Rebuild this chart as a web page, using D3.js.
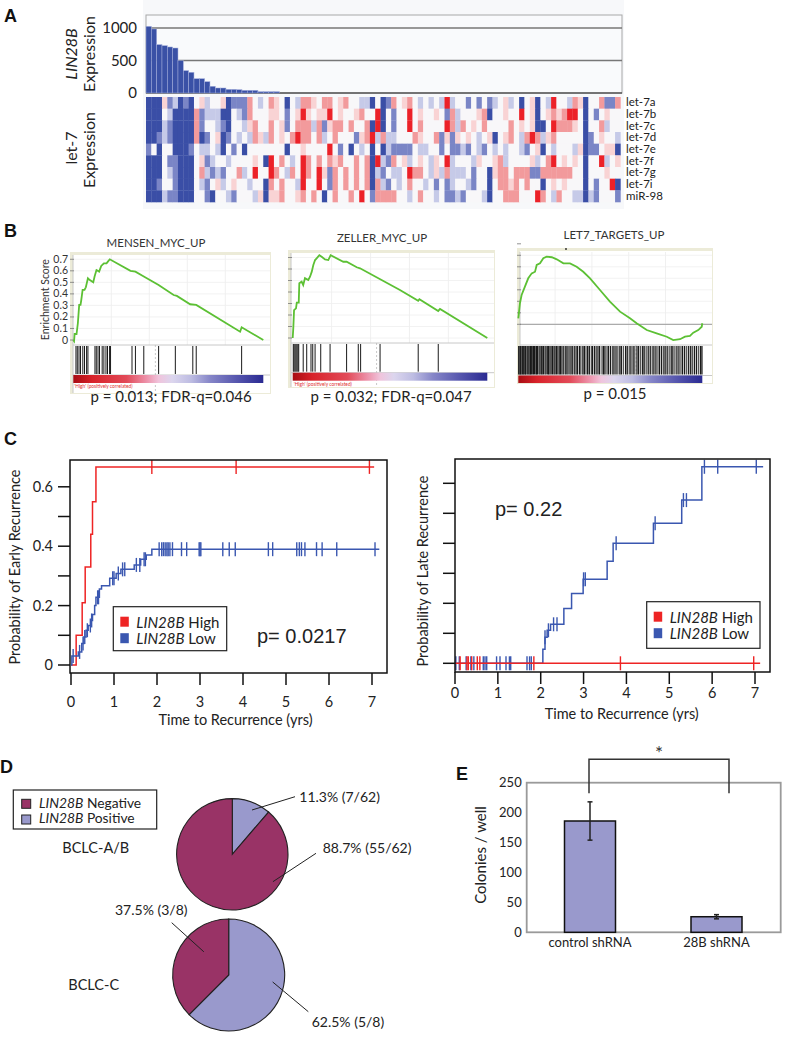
<!DOCTYPE html>
<html><head><meta charset="utf-8">
<script src="https://cdn.jsdelivr.net/npm/d3@7"></script>
<style>body{margin:0;background:#fff}</style>
</head><body><svg id="c" width="786" height="1050"></svg>
<script>
// ================= DATA =================
// Panel A
const lin28bValues = [1025,985,744,728,708,692,497,344,318,220,220,174,103,77,77,56,56,51,41,41,41,20,20,20,20,
 0,0,0,0,0,0,0,0,
 0,0,0,0,0,0,0,0,
 0,0,0,0,0,0,0,0,
 0,0,0,0,0,0,0,0,
 0,0,0,0,0,0,0,0,
 0,0,0,0,0,0,0,0,
 0,0,0,0,0,0,0,0,
 0,0,0,0,0,0,0,0];
const lin28bTicks = [0,500,1000];
const let7Rows = ["let-7a","let-7b","let-7c","let-7d","let-7e","let-7f","let-7g","let-7i","miR-98"];
// level codes 1..7 : 1 = strong blue, 4 = neutral, 7 = strong red
const let7Codes = [
 "1115231214 5344512226 4346541436 6546645644 3314126456 4343437344 2424234534 1451437443 651446226",
 "1114311116 2333114326 4445542457 5455745445 6447142447 4544542634 4456144544 7451456567 741424544",
 "1113211116 2443214435 6446452466 6362566464 4617142447 4644447636 4546444464 5451147666 541446344",
 "1123211116 1245124343 6536454676 6463464442 5673633444 6544625254 5434514564 3676356444 441245443",
 "2414411124 3343142414 4444441445 4444742414 3414132222 4334424223 2432434344 3245143444 351224551",
 "1114221114 5234434444 5417464347 6464656446 4617326453 4543547344 4354456344 4453467454 541447345",
 "1114321114 6323244634 7447643647 6475264646 4613243347 6643536333 4244156646 6622666666 441444544",
 "1124421114 3245345443 4416464437 4474264646 4616324346 4434242344 3244146656 4644145454 441424471",
 "1113221114 4214432444 3515564456 4641464464 7426666443 4644342232 4443144666 4447643644 331324442"
];
// Panel B (rank 0..1000, enrichment score)
const mensenCurve = [[0,0],[4,-0.01],[7,0.052],[17,0.052],[24,0.145],[31,0.304],[38,0.304],[42,0.347],[49,0.434],[59,0.434],[66,0.457],[77,0.535],[87,0.52],[105,0.50],[112,0.55],[122,0.607],[136,0.593],[147,0.642],[161,0.665],[175,0.665],[182,0.68],[192,0.70],[301,0.60],[327,0.593],[371,0.55],[449,0.477],[528,0.39],[545,0.382],[615,0.31],[647,0.304],[878,0.072],[886,0.11],[1000,0]];
const mensenHits = [14,21,30,38,50,59,70,77,114,121,130,138,152,161,172,180,191,196,309,327,371,449,537,629,647,886];
const zellerCurve = [[0,0],[3,0.084],[7,0.243],[17,0.258],[21,0.307],[31,0.307],[34,0.476],[46,0.49],[54,0.46],[63,0.52],[80,0.504],[89,0.533],[98,0.577],[106,0.635],[115,0.678],[123,0.693],[137,0.72],[149,0.707],[166,0.684],[183,0.678],[195,0.72],[260,0.663],[277,0.663],[329,0.615],[346,0.606],[551,0.417],[645,0.324],[651,0.337],[748,0.235],[757,0.252],[1000,0]];
const zellerHits = [3,7,12,17,22,27,31,54,72,94,103,115,144,192,277,337,349,449,645,748];
const let7Curve = [[0,0.052],[9,0.183],[18,0.255],[36,0.327],[54,0.4],[73,0.443],[91,0.457],[100,0.516],[118,0.53],[136,0.574],[154,0.588],[182,0.583],[209,0.565],[245,0.53],[281,0.53],[317,0.50],[353,0.457],[390,0.40],[444,0.298],[498,0.197],[553,0.11],[607,0.052],[643,0.009],[698,-0.05],[752,-0.078],[807,-0.108],[842,-0.137],[879,-0.13],[906,-0.108],[933,-0.1],[951,-0.073],[978,-0.05],[997,-0.021],[1000,0.009]];
const let7Hits = [2,6,11,15,19,24,28,33,38,41,47,52,58,63,66,71,77,82,88,95,99,104,112,118,126,131,137,146,152,160,165,171,178,186,193,199,207,214,222,229,236,244,255,262,270,281,288,296,307,315,322,333,340,351,359,368,377,386,397,404,415,424,433,442,455,463,471,482,490,501,512,520,531,541,552,560,571,583,592,603,612,624,633,645,654,665,676,684,695,706,717,728,737,748,759,768,779,790,798,809,820,831,840,851,862,873,884,893,904,915,926,937,946,957,968,979,990,998];
const esTicks = [0,0.1,0.2,0.3,0.4,0.5,0.6,0.7];
const gseaTitles = ["MENSEN_MYC_UP","ZELLER_MYC_UP","LET7_TARGETS_UP"];
const gseaStats = ["p = 0.013; FDR-q=0.046","p = 0.032; FDR-q=0.047","p = 0.015"];
// Panel C (time yrs, probability)
const earlyHighSteps = [[0,0],[0.12,0.10],[0.26,0.21],[0.33,0.33],[0.46,0.44],[0.50,0.55],[0.58,0.667]];
const earlyHighEnd = 7.05;
const earlyHighCensor = [1.88,3.84,6.94];
const earlyLowSteps = [[0,0],[0.02,0.03],[0.17,0.044],[0.25,0.072],[0.30,0.094],[0.35,0.117],[0.40,0.133],[0.46,0.15],[0.50,0.17],[0.55,0.20],[0.58,0.228],[0.66,0.256],[0.71,0.267],[0.90,0.292],[1.05,0.308],[1.16,0.322],[1.47,0.337],[1.62,0.356],[1.75,0.37],[1.88,0.39]];
const earlyLowEnd = 7.17;
const earlyLowCensor = [0.05,0.2,0.28,0.32,0.38,0.45,0.48,0.62,0.64,0.97,1.0,1.1,1.2,1.25,1.52,1.6,1.7,1.73,2.05,2.11,2.15,2.19,2.23,2.26,2.30,2.36,2.57,2.69,2.98,3.0,3.02,3.53,3.68,3.82,4.59,4.69,5.25,5.31,5.36,5.44,5.71,5.84,6.18,7.07];
const lateHighSteps = [[0,0]];
const lateHighEnd = 7.12;
const lateHighCensor = [0.12,0.28,0.31,0.39,0.52,0.58,1.84,3.86,6.97];
const lateLowSteps = [[0,0],[2.05,0.047],[2.1,0.087],[2.15,0.11],[2.23,0.13],[2.54,0.183],[2.72,0.233],[2.99,0.28],[3.55,0.34],[3.69,0.40],[4.63,0.467],[5.29,0.544],[5.76,0.655]];
const lateLowEnd = 7.19;
const lateLowCensor = [0.02,0.1,0.26,0.37,0.44,0.66,0.70,0.74,0.97,1.05,1.19,1.27,1.3,1.68,1.74,1.78,2.1,2.18,2.3,2.38,3.0,3.04,3.76,4.67,5.33,5.4,5.82,6.13,7.03];
const kmXTicks = [0,1,2,3,4,5,6,7];
const kmYTicks = [0,0.1,0.2,0.3,0.4,0.5,0.6];
const kmYLabels = [0,0.2,0.4,0.6];
// Panel D
const pieGroups = ["BCLC-A/B","BCLC-C"];
const piePositive = [7,5];
const pieNegative = [55,3];
// Panel E
const eCategories = ["control shRNA","28B shRNA"];
const eValues = [186,26];
const eErrors = [32,3.5];
const eTicks = [0,50,100,150,200,250];

// ================= DRAW =================
const F = "Lato, 'Open Sans', sans-serif";
const svg = d3.select('#c');
svg.append('rect').attr('width',786).attr('height',1050).attr('fill','#fff');

function txt(g,x,y,s,o={}){
  const t=g.append('text').attr('x',x).attr('y',y).text(s)
   .attr('font-size',o.size||14).attr('fill',o.fill||'#222')
   .attr('text-anchor',o.anchor||'start').attr('font-family',o.family||F);
  if(o.weight) t.attr('font-weight',o.weight);
  if(o.italic) t.attr('font-style','italic');
  return t;
}
function rich(g,x,y,parts,o={}){
  const t=g.append('text').attr('x',x).attr('y',y)
   .attr('font-size',o.size||14).attr('fill',o.fill||'#222').attr('font-family',o.family||F)
   .attr('text-anchor',o.anchor||'start');
  parts.forEach(p=>t.append('tspan').text(p[0]).attr('font-style',p[1]?'italic':'normal'));
  return t;
}
// panel letters
[["A",4,22],["B",4,237],["C",4,445],["D",0,773],["E",456,780]].forEach(d=>
  txt(svg,d[1],d[2],d[0],{size:18,weight:'bold',family:"'Liberation Sans',Arial,sans-serif",fill:'#111'}));

// ---------- Panel A ----------
const gA = svg.append('g');
gA.append('rect').attr('x',143).attr('y',0).attr('width',481).attr('height',209).attr('fill','#f7f8fa');
const nCols = let7Codes[0].replace(/ /g,'').length;
const xA = d3.scaleBand().domain(d3.range(nCols)).range([146,620.4]);
const yA = d3.scaleLinear().domain([0,1200]).range([93,15]);
gA.append('rect').attr('x',146).attr('y',15).attr('width',476).attr('height',78).attr('fill','#f9fafc').attr('stroke','#a8a8a8').attr('stroke-width',1);
lin28bTicks.forEach(v=>gA.append('line').attr('x1',146).attr('x2',622).attr('y1',yA(v)).attr('y2',yA(v)).attr('stroke',v===0?'#555':'#777').attr('stroke-width',1.3));
gA.selectAll('rect.bar').data(lin28bValues.slice(0,nCols)).join('rect').attr('class','bar')
  .attr('x',(d,i)=>xA(i)).attr('width',xA.bandwidth()).attr('y',d=>yA(d)).attr('height',d=>yA(0)-yA(d))
  .attr('fill','#3a51a6').attr('stroke','#a3aedb').attr('stroke-width',0.5);
const axA = gA.append('g').attr('transform','translate(146,0)').call(d3.axisLeft(yA).tickValues(lin28bTicks).tickFormat(d3.format('d')).tickSize(0).tickPadding(9));
axA.select('.domain').remove();
axA.selectAll('text').attr('font-size',15).attr('font-family',F).attr('fill','#222');
rich(gA,0,0,[["LIN28B",true]],{size:16,anchor:'middle'}).attr('transform','translate(77,54) rotate(-90)');
txt(gA,0,0,"Expression",{size:16,anchor:'middle'}).attr('transform','translate(95,54) rotate(-90)');
txt(gA,0,0,"let-7",{size:16,anchor:'middle'}).attr('transform','translate(77,148) rotate(-90)');
txt(gA,0,0,"Expression",{size:16,anchor:'middle'}).attr('transform','translate(95,150) rotate(-90)');
const yH = d3.scaleBand().domain(let7Rows).range([97,202]);
const heatColor = d3.scaleLinear().domain([-3,-2,-1,0,1,2,3]).range(["#3a4ea6","#7a85c6","#c6cae8","#f8f7f9","#f9d3d4","#f29a9c","#ec2128"]);
const cells=[];
let7Codes.forEach((s,ri)=>{ s.replace(/ /g,'').split('').slice(0,nCols).forEach((c,ci)=>cells.push({r:let7Rows[ri],c:ci,v:(+c)-4})); });
gA.selectAll('rect.cell').data(cells).join('rect').attr('class','cell')
  .attr('x',d=>xA(d.c)).attr('y',d=>yH(d.r)).attr('width',xA.bandwidth()+0.3).attr('height',yH.bandwidth()+0.3)
  .attr('fill',d=>heatColor(d.v));
let7Rows.forEach(r=>txt(gA,626,yH(r)+yH.bandwidth()/2+3.5,r,{size:11.5,fill:'#222'}));

// ---------- Panel B ----------
const gradStops=[[0,"#a80c12"],[0.1,"#d8222a"],[0.28,"#e24a58"],[0.38,"#ec8ea6"],[0.45,"#f0c4dc"],[0.52,"#dcd6ee"],[0.62,"#bdbce2"],[0.72,"#8686c8"],[0.86,"#5656ae"],[1,"#2a2a92"]];
const defs=svg.append('defs');
const lg=defs.append('linearGradient').attr('id','rankGrad');
gradStops.forEach(s=>lg.append('stop').attr('offset',s[0]).attr('stop-color',s[1]));

function gsea(o){
  const g=svg.append('g');
  g.append('rect').attr('x',o.box[0]).attr('y',o.box[1]).attr('width',o.box[2]-o.box[0]).attr('height',o.box[3]-o.box[1]).attr('fill','#ecebd8');
  g.append('rect').attr('x',o.box[0]+3).attr('y',o.box[1]+3).attr('width',o.box[2]-o.box[0]-4).attr('height',o.box[3]-o.box[1]-4).attr('fill','#fff');
  const x=d3.scaleLinear().domain([0,1000]).range(o.xr);
  const y=d3.scaleLinear().domain([0,0.1]).range([o.zero,o.zero-o.unit]);
  const L=o.box[0]+3, R=o.box[2]-1;
  [200,400,600,800].forEach(r=>g.append('line').attr('x1',x(r)).attr('x2',x(r)).attr('y1',o.es[0]).attr('y2',o.es[1]).attr('stroke','#ececec').attr('stroke-width',0.8));
  esTicks.forEach(v=>{ if(y(v)>o.es[0]) g.append('line').attr('x1',L).attr('x2',R).attr('y1',y(v)).attr('y2',y(v)).attr('stroke','#efefef').attr('stroke-width',0.8);});
  g.append('line').attr('x1',L).attr('x2',R).attr('y1',o.es[1]).attr('y2',o.es[1]).attr('stroke','#c8c8c8');
  g.append('line').attr('x1',L).attr('x2',R).attr('y1',o.hits[1]).attr('y2',o.hits[1]).attr('stroke','#c8c8c8');
  g.append('line').attr('x1',L).attr('x2',L).attr('y1',o.es[0]).attr('y2',o.box[3]-1).attr('stroke','#c8c8c8');
  if(o.zeroLine) g.append('line').attr('x1',L).attr('x2',R).attr('y1',y(0)).attr('y2',y(0)).attr('stroke','#999').attr('stroke-width',1);
  esTicks.forEach(v=>g.append('line').attr('x1',L-3).attr('x2',L+1).attr('y1',y(v)).attr('y2',y(v)).attr('stroke','#777').attr('stroke-width',0.8));
  if(o.labels){
    esTicks.forEach(v=>txt(g,L-5,y(v)+3.5,v===0?"0":String(v),{size:10.5,anchor:'end',fill:'#333'}));
    txt(g,0,0,"Enrichment Score",{size:10.5,anchor:'middle',fill:'#333'}).attr('transform',`translate(49,${(y(0)+y(0.7))/2}) rotate(-90)`);
  }
  g.append('line').attr('x1',x(o.cross)).attr('x2',x(o.cross)).attr('y1',o.hits[0]).attr('y2',o.box[3]-1).attr('stroke','#bbb').attr('stroke-dasharray','2,2').attr('stroke-width',0.8);
  g.selectAll('line.hit').data(o.hitData).join('line').attr('class','hit')
   .attr('x1',d=>x(d)).attr('x2',d=>x(d)).attr('y1',o.hits[0]+1).attr('y2',o.hits[1]-1)
   .attr('stroke',(d,i)=>o.dense&&(i%3===1)?'#555':'#1a1a1a').attr('stroke-width',o.dense?1.3:1);
  g.append('rect').attr('x',x(0)).attr('y',o.bar[0]).attr('width',x(1000)-x(0)).attr('height',o.bar[1]-o.bar[0]).attr('fill','url(#rankGrad)');
  if(o.caption) txt(g,x(0)+1,o.bar[1]+5,"'High' (positively correlated)",{size:4.8,fill:'#e03030'});
  g.append('path').attr('d',d3.line().x(d=>x(d[0])).y(d=>y(d[1]))(o.curve)).attr('fill','none').attr('stroke','#5cc034').attr('stroke-width',1.8);
  txt(g,o.title[0],o.title[1],o.titleText,{size:11.5,anchor:'middle',fill:'#333'});
  txt(g,o.stat[0],o.stat[1],o.statText,{size:15,anchor:'middle',fill:'#222'});
}
gsea({box:[70,252,271,394],xr:[73.3,263.3],zero:340,unit:11.53,es:[255,345],hits:[345,375],bar:[375,383],labels:true,caption:true,cross:432,curve:mensenCurve,hitData:mensenHits,title:[156,247],titleText:gseaTitles[0],stat:[171,402],statText:gseaStats[0]});
gsea({box:[288,250,495,388],xr:[292.7,487.3],zero:338,unit:11.5,es:[253,343],hits:[343,372.7],bar:[372.7,380.7],labels:false,caption:true,cross:431,curve:zellerCurve,hitData:zellerHits,title:[382,242],titleText:gseaTitles[1],stat:[391,402],statText:gseaStats[1]});
gsea({box:[517,248,713,384],xr:[518.3,702.3],zero:324.3,unit:11.5,es:[252,345],hits:[345,375.5],bar:[375.5,383],labels:false,caption:false,zeroLine:true,cross:640,dense:true,curve:let7Curve,hitData:let7Hits,title:[614,239],titleText:gseaTitles[2],stat:[615,399],statText:gseaStats[2]});
svg.append('circle').attr('cx',566).attr('cy',249).attr('r',0.9).attr('fill','#222');

// ---------- Panel C ----------
const RED="#ee2424", BLUE="#3a57b0";
function stepVal(steps,t){ let v=steps[0][1]; steps.forEach(s=>{ if(s[0]<=t) v=s[1]; }); return v; }
function km(o){
  const g=svg.append('g');
  const x=d3.scaleLinear().domain([0,7]).range(o.xr);
  const y=d3.scaleLinear().domain([0,0.6]).range(o.yr);
  const [x0,y0,x1,y1]=o.box;
  o.series.forEach(s=>{
    const pts=s.steps.concat([[s.end,s.steps[s.steps.length-1][1]]]);
    g.append('path').attr('d',d3.line().curve(d3.curveStepAfter).x(d=>x(d[0])).y(d=>y(d[1]))(pts)).attr('fill','none').attr('stroke',s.color).attr('stroke-width',1.5);
    g.selectAll(null).data(s.censor).join('line').attr('x1',d=>x(d)).attr('x2',d=>x(d))
     .attr('y1',d=>y(stepVal(s.steps,d))-7).attr('y2',d=>y(stepVal(s.steps,d))+7).attr('stroke',s.color).attr('stroke-width',1.4);
  });
  g.append('rect').attr('x',x0).attr('y',y0).attr('width',x1-x0).attr('height',y1-y0).attr('fill','none').attr('stroke','#111').attr('stroke-width',1.5);
  kmXTicks.forEach(t=>{
    g.append('line').attr('x1',x(t)).attr('x2',x(t)).attr('y1',y1).attr('y2',y1+12).attr('stroke','#111').attr('stroke-width',1.5);
    txt(g,x(t),o.xLabY,String(t),{size:14.5,anchor:'middle',fill:'#222'});
  });
  kmYTicks.forEach(v=>g.append('line').attr('x1',x0-12).attr('x2',x0).attr('y1',y(v)).attr('y2',y(v)).attr('stroke','#111').attr('stroke-width',1.5));
  if(o.yLabels) kmYLabels.forEach(v=>txt(g,x0-17,y(v)+5,v===0?"0":String(v),{size:14.5,anchor:'end',fill:'#222'}));
  txt(g,o.xTitle[0],o.xTitle[1],"Time to Recurrence (yrs)",{size:14.5,anchor:'middle',fill:'#222'});
  txt(g,0,0,o.yTitleText,{size:14.5,anchor:'middle',fill:'#222'}).attr('transform',`translate(${o.yTitle[0]},${o.yTitle[1]}) rotate(-90)`);
  const lb=o.legend;
  g.append('rect').attr('x',lb[0]).attr('y',lb[1]).attr('width',lb[2]).attr('height',lb[3]).attr('fill','#fff').attr('stroke','#222').attr('stroke-width',1.2);
  [["High",RED,0],["Low",BLUE,1]].forEach(d=>{
    g.append('rect').attr('x',lb[0]+7).attr('y',lb[1]+10+d[2]*16.5).attr('width',8.5).attr('height',10).attr('fill',d[1]);
    rich(g,lb[0]+23,lb[1]+21+d[2]*16.7,[["LIN28B",true],[" "+d[0],false]],{size:15});
  });
  txt(g,o.p[0],o.p[1],o.pText,{size:20,family:"'Liberation Sans',Arial,sans-serif",fill:'#222'});
}
km({box:[70,460,387,673],xr:[71,372],yr:[665,486.8],xLabY:707,xTitle:[235.5,725],yTitle:[20,567],yTitleText:"Probability of Early Recurrence",yLabels:true,
  legend:[113.3,606.7,113.4,44],p:[257,643],pText:"p= 0.0217",
  series:[{steps:earlyHighSteps,end:earlyHighEnd,censor:earlyHighCensor,color:RED},{steps:earlyLowSteps,end:earlyLowEnd,censor:earlyLowCensor,color:BLUE}]});
km({box:[455,459,770,672],xr:[455,755],yr:[663.3,483.3],xLabY:698,xTitle:[621.7,719],yTitle:[428,571],yTitleText:"Probability of Late Recurrence",yLabels:false,
  legend:[646.7,601.7,113.3,46.6],p:[495,516],pText:"p= 0.22",
  series:[{steps:lateLowSteps,end:lateLowEnd,censor:lateLowCensor,color:BLUE},{steps:lateHighSteps,end:lateHighEnd,censor:lateHighCensor,color:RED}]});

// ---------- Panel D ----------
const NEG="#993366", POS="#9999cc";
const gD=svg.append('g');
gD.append('rect').attr('x',13.3).attr('y',790).attr('width',143.4).attr('height',39).attr('fill','#fff').attr('stroke','#222').attr('stroke-width',1.2);
[["Negative",NEG,0],["Positive",POS,1]].forEach(d=>{
  gD.append('rect').attr('x',21.7).attr('y',799.3+d[2]*15.7).attr('width',9).attr('height',9).attr('fill',d[1]).attr('stroke','#222').attr('stroke-width',1);
  rich(gD,39,807.5+d[2]*15.2,[["LIN28B",true],[" "+d[0],false]],{size:13.8});
});
const pieLayout=d3.pie().sort(null).value(d=>d.v);
const pieCfg=[
  {c:[232.3,854.3],r:55.7,lab:[62.3,852.7],
   leaders:[{slice:0,ang:24,rr:48.5,end:[295,796.7],tx:[299.3,801.7]},{slice:1,ang:124,rr:49,end:[316,853.3],tx:[322.7,853]}]},
  {c:[228.7,975],r:56,lab:[68.3,990],
   leaders:[{slice:1,ang:313,rr:34,end:[171.7,922.7],tx:[115,915]},{slice:0,ang:99,rr:44.5,end:[308.3,1011.7],tx:[311.7,1026.7]}]}
];
pieGroups.forEach((name,i)=>{
  const cfg=pieCfg[i];
  const data=[{k:'pos',v:piePositive[i]},{k:'neg',v:pieNegative[i]}];
  const total=piePositive[i]+pieNegative[i];
  const arcs=pieLayout(data);
  const arc=d3.arc().innerRadius(0).outerRadius(cfg.r);
  const g=gD.append('g').attr('transform',`translate(${cfg.c[0]},${cfg.c[1]})`);
  g.selectAll('path').data(arcs).join('path').attr('d',arc).attr('fill',d=>d.data.k==='pos'?POS:NEG).attr('stroke','#222').attr('stroke-width',1.1);
  cfg.leaders.forEach(L=>{
    const a=L.ang*Math.PI/180;
    const sx=cfg.c[0]+L.rr*Math.sin(a), sy=cfg.c[1]-L.rr*Math.cos(a);
    gD.append('line').attr('x1',sx).attr('y1',sy).attr('x2',L.end[0]).attr('y2',L.end[1]).attr('stroke','#222').attr('stroke-width',1);
    const d=data[L.slice];
    const pct=(d.v/total*100).toFixed(1);
    txt(gD,L.tx[0],L.tx[1],`${pct}% (${d.v}/${total})`,{size:14,fill:'#222'});
  });
  txt(gD,cfg.lab[0],cfg.lab[1],name,{size:14.5,fill:'#222'});
});

// ---------- Panel E ----------
const gE=svg.append('g');
const yE=d3.scaleLinear().domain([0,250]).range([932.3,782.7]);
const xE=d3.scalePoint().domain(eCategories).range([590,716.5]);
const bw=51;
gE.append('rect').attr('x',526.7).attr('y',782.7).attr('width',254).attr('height',149.6).attr('fill','#fff').attr('stroke','#9a9a9a').attr('stroke-width',1.8);
gE.selectAll('rect.b').data(eCategories).join('rect').attr('class','b')
  .attr('x',d=>xE(d)-bw/2).attr('width',bw).attr('y',(d,i)=>yE(eValues[i])).attr('height',(d,i)=>yE(0)-yE(eValues[i]))
  .attr('fill','#9999cc').attr('stroke','#111').attr('stroke-width',1.5);
eCategories.forEach((c,i)=>{
  const cx=xE(c), t=yE(eValues[i]+eErrors[i]), b=yE(eValues[i]-eErrors[i]);
  gE.append('line').attr('x1',cx).attr('x2',cx).attr('y1',t).attr('y2',b).attr('stroke','#222').attr('stroke-width',1.5);
  [t,b].forEach(yy=>gE.append('line').attr('x1',cx-2.5).attr('x2',cx+2.5).attr('y1',yy).attr('y2',yy).attr('stroke','#222').attr('stroke-width',1.5));
  txt(gE,cx,946.7,c,{size:13,anchor:'middle',fill:'#222'});
});
const axE=gE.append('g').attr('transform','translate(526.7,0)').call(d3.axisLeft(yE).tickValues(eTicks).tickSize(0).tickPadding(5));
axE.select('.domain').remove();
axE.selectAll('text').attr('font-size',13).attr('font-family',F).attr('fill','#222');
txt(gE,0,0,"Colonies / well",{size:15,anchor:'middle',fill:'#222'}).attr('transform','translate(486,855) rotate(-90)');
const bl=xE(eCategories[0])-1, br=xE(eCategories[1])+12.5;
gE.append('path').attr('d',`M${bl},793.3V759.3H${br}V793.3`).attr('fill','none').attr('stroke','#333').attr('stroke-width',1.5);
txt(gE,(bl+br)/2,760,"*",{size:19,anchor:'middle',fill:'#333'});
</script></body></html>
